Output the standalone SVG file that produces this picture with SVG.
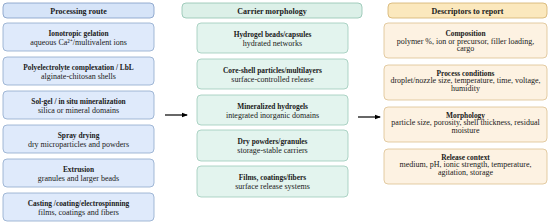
<svg xmlns="http://www.w3.org/2000/svg" width="550" height="224" viewBox="0 0 550 224">
<style>
text{font-family:"Liberation Serif","Times New Roman",serif;font-size:8px;fill:#1a1a1a;text-anchor:middle}
.b{font-weight:bold;font-size:7.4px}
.h{font-weight:bold;font-size:8px}
.bl{fill:#dfeafb;stroke:#8ea8cc;stroke-width:0.8}
.blh{fill:#d6e4f8;stroke:#7f9bc4;stroke-width:0.8}
.gr{fill:#e3f4ee;stroke:#9ccab9;stroke-width:0.8}
.grh{fill:#dcf0e8;stroke:#8fc2ae;stroke-width:0.8}
.or{fill:#fdf2e2;stroke:#dcc08f;stroke-width:0.8}
.orh{fill:#fbe8bd;stroke:#d3b06c;stroke-width:0.8}
.c{stroke:#000;stroke-width:1.2;fill:none}
</style>
<defs>
<marker id="ah" markerWidth="6" markerHeight="6" refX="5" refY="3" orient="auto" markerUnits="userSpaceOnUse">
<path d="M0,0.8 L6,3 L0,5.2 Z" fill="#000"/>
</marker>
</defs>
<g id="h1"><rect class="blh" x="3" y="3" width="151" height="15" rx="4"/><text class="h" x="78.5" y="13.6">Processing route</text></g>
<g id="n1"><rect class="bl" x="3" y="23" width="151" height="28" rx="4"/><text class="b" x="78.5" y="35.6">Ionotropic gelation</text><text x="78.5" y="44.8">aqueous Ca²⁺/multivalent ions</text></g>
<g id="n2"><rect class="bl" x="3" y="57" width="151" height="28" rx="4"/><text class="b" x="78.5" y="69.6">Polyelectrolyte complexation / LbL</text><text x="78.5" y="78.8">alginate-chitosan shells</text></g>
<g id="n3"><rect class="bl" x="3" y="91" width="151" height="28" rx="4"/><text class="b" x="78.5" y="103.6">Sol-gel / in situ mineralization</text><text x="78.5" y="112.8">silica or mineral domains</text></g>
<g id="n4"><rect class="bl" x="3" y="125" width="151" height="28" rx="4"/><text class="b" x="78.5" y="137.6">Spray drying</text><text x="78.5" y="146.8">dry microparticles and powders</text></g>
<g id="n5"><rect class="bl" x="3" y="159" width="151" height="28" rx="4"/><text class="b" x="78.5" y="171.6">Extrusion</text><text x="78.5" y="180.8">granules and larger beads</text></g>
<g id="n6"><rect class="bl" x="3" y="193" width="151" height="28" rx="4"/><text class="b" x="78.5" y="205.6">Casting /coating/electrospinning</text><text x="78.5" y="214.8">films, coatings and fibers</text></g>

<g id="h2"><rect class="grh" x="182" y="3" width="180" height="15" rx="4"/><text class="h" x="272" y="13.6">Carrier morphology</text></g>
<g id="m1"><rect class="gr" x="197" y="23" width="151" height="30" rx="4"/><text class="b" x="272.5" y="36.6">Hydrogel beads/capsules</text><text x="272.5" y="45.8">hydrated networks</text></g>
<g id="m2"><rect class="gr" x="197" y="59" width="151" height="30" rx="4"/><text class="b" x="272.5" y="72.6">Core-shell particles/multilayers</text><text x="272.5" y="81.8">surface-controlled release</text></g>
<g id="m3"><rect class="gr" x="197" y="95" width="151" height="30" rx="4"/><text class="b" x="272.5" y="108.6">Mineralized hydrogels</text><text x="272.5" y="117.8">integrated inorganic domains</text></g>
<g id="m4"><rect class="gr" x="197" y="130" width="151" height="31" rx="4"/><text class="b" x="272.5" y="144.1">Dry powders/granules</text><text x="272.5" y="153.3">storage-stable carriers</text></g>
<g id="m5"><rect class="gr" x="197" y="166" width="151" height="31" rx="4"/><text class="b" x="272.5" y="180.1">Films, coatings/fibers</text><text x="272.5" y="189.3">surface release systems</text></g>

<g id="h3"><rect class="orh" x="388" y="3" width="159" height="15" rx="4"/><text class="h" x="467.5" y="13.6">Descriptors to report</text></g>
<g id="d1"><rect class="or" x="384" y="23" width="163" height="35" rx="4"/><text class="b" x="465.5" y="35.6">Composition</text><text x="465.5" y="43.8">polymer %, ion or precursor, filler loading,</text><text x="465.5" y="51.3">cargo</text></g>
<g id="d2"><rect class="or" x="384" y="65" width="163" height="35" rx="4"/><text class="b" x="465.5" y="75.6">Process conditions</text><text x="465.5" y="83.3">droplet/nozzle size, temperature, time, voltage,</text><text x="465.5" y="90.8">humidity</text></g>
<g id="d3"><rect class="or" x="384" y="107" width="163" height="35" rx="4"/><text class="b" x="465.5" y="117.6">Morphology</text><text x="465.5" y="125.3">particle size, porosity, shell thickness, residual</text><text x="465.5" y="132.8">moisture</text></g>
<g id="d4"><rect class="or" x="384" y="149" width="163" height="35" rx="4"/><text class="b" x="465.5" y="159.6">Release context</text><text x="465.5" y="167.3">medium, pH, ionic strength, temperature,</text><text x="465.5" y="174.8">agitation, storage</text></g>

<g id="connectors">
<line class="c" x1="165" y1="115" x2="187" y2="115" marker-end="url(#ah)"/>
<line class="c" x1="358" y1="117" x2="380" y2="117" marker-end="url(#ah)"/>
</g>
</svg>
